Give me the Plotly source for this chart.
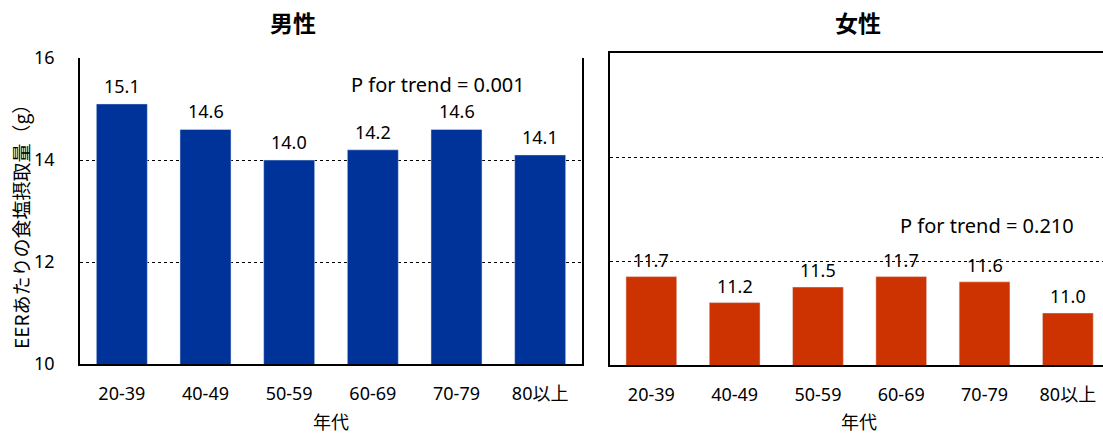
import plotly.graph_objects as go

categories = ["20-39", "40-49", "50-59", "60-69", "70-79", "80以上"]
male_values = [15.1, 14.6, 14.0, 14.2, 14.6, 14.1]
female_values = [11.7, 11.2, 11.5, 11.7, 11.6, 11.0]
y_ticks = [10, 12, 14, 16]
male_title = "男性"
female_title = "女性"
male_trend = "P for trend = 0.001"
female_trend = "P for trend = 0.210"
x_title = "年代"
y_title = "EERあたりの食塩摂取量（g）"

W, H = 1103, 435
LATIN = "Noto Sans, Noto Sans CJK JP, sans-serif"
CJK = "Noto Sans CJK JP, Noto Sans, sans-serif"
BLUE = "#003399"
RED = "#CC3300"

fig = go.Figure()
fig.add_trace(go.Bar(x=categories, y=male_values, marker_color=BLUE, width=0.61,
                     xaxis="x", yaxis="y", showlegend=False, hoverinfo="x+y"))
fig.add_trace(go.Bar(x=categories, y=female_values, marker_color=RED, width=0.61,
                     xaxis="x2", yaxis="y2", showlegend=False, hoverinfo="x+y"))

def px_x(p):
    return p / W

def px_y(p):
    return 1 - p / H

def label(x, y, text, size, family, angle=0):
    return dict(x=px_x(x), y=px_y(y), xref="paper", yref="paper", text=text, showarrow=False,
                xanchor="center", yanchor="middle", textangle=angle, borderpad=0,
                font=dict(size=size, family=family, color="#000"))

annotations = []
for c, v in zip(categories, male_values):
    annotations.append(dict(x=c, y=v, xref="x", yref="y", text=f"{v:.1f}", showarrow=False,
                            xanchor="center", yanchor="middle", yshift=18,
                            font=dict(size=18, family=LATIN, color="#000")))
for c, v in zip(categories, female_values):
    annotations.append(dict(x=c, y=v, xref="x2", yref="y2", text=f"{v:.1f}", showarrow=False,
                            xanchor="center", yanchor="middle", yshift=17,
                            font=dict(size=18, family=LATIN, color="#000")))

annotations += [
    label(293, 22, f"<b>{male_title}</b>", 23, CJK),
    label(858, 22, f"<b>{female_title}</b>", 23, CJK),
    label(331, 421, x_title, 18, CJK),
    label(859, 421, x_title, 18, CJK),
    label(20, 222, y_title, 19, CJK, angle=-90),
    label(438, 85, male_trend, 20, LATIN),
    label(987, 225, female_trend, 20, LATIN),
]

tickfont = dict(size=18, family=LATIN, color="#000")

fig.update_layout(
    width=W, height=H,
    margin=dict(l=0, r=0, t=0, b=0, pad=0, autoexpand=False),
    paper_bgcolor="white", plot_bgcolor="white",
    bargap=0.39,
    annotations=annotations,
    xaxis=dict(domain=[px_x(80), px_x(582)], range=[-0.5, 5.5], showline=True, linecolor="#000",
               linewidth=1.5, mirror=False, showgrid=False, ticks="", tickfont=tickfont,
               ticklabelstandoff=13, fixedrange=True, automargin=False),
    yaxis=dict(domain=[1 - 364 / H, 1 - 58 / H], range=[10, 16], tickvals=y_ticks, showline=True,
               linecolor="#000", linewidth=1.5, mirror=True, showgrid=True, gridcolor="#000",
               gridwidth=1, griddash="3px,3px", ticks="", tickfont=tickfont,
               ticklabelstandoff=20, zeroline=False, fixedrange=True, automargin=False),
    xaxis2=dict(domain=[px_x(609.7), 1.0], range=[-0.5, 5.422], showline=True, linecolor="#000",
                linewidth=1.5, mirror=True, showgrid=False, ticks="", tickfont=tickfont,
                ticklabelstandoff=13, anchor="y2", fixedrange=True, automargin=False),
    yaxis2=dict(domain=[1 - 365 / H, 1 - 53 / H], range=[10, 16], tickvals=y_ticks, showline=True,
                linecolor="#000", linewidth=1.5, mirror=False, showgrid=True, gridcolor="#000",
                gridwidth=1, griddash="3px,3px", showticklabels=False, ticks="", zeroline=False,
                anchor="x2", fixedrange=True, automargin=False),
)

fig.write_html("out.html")
